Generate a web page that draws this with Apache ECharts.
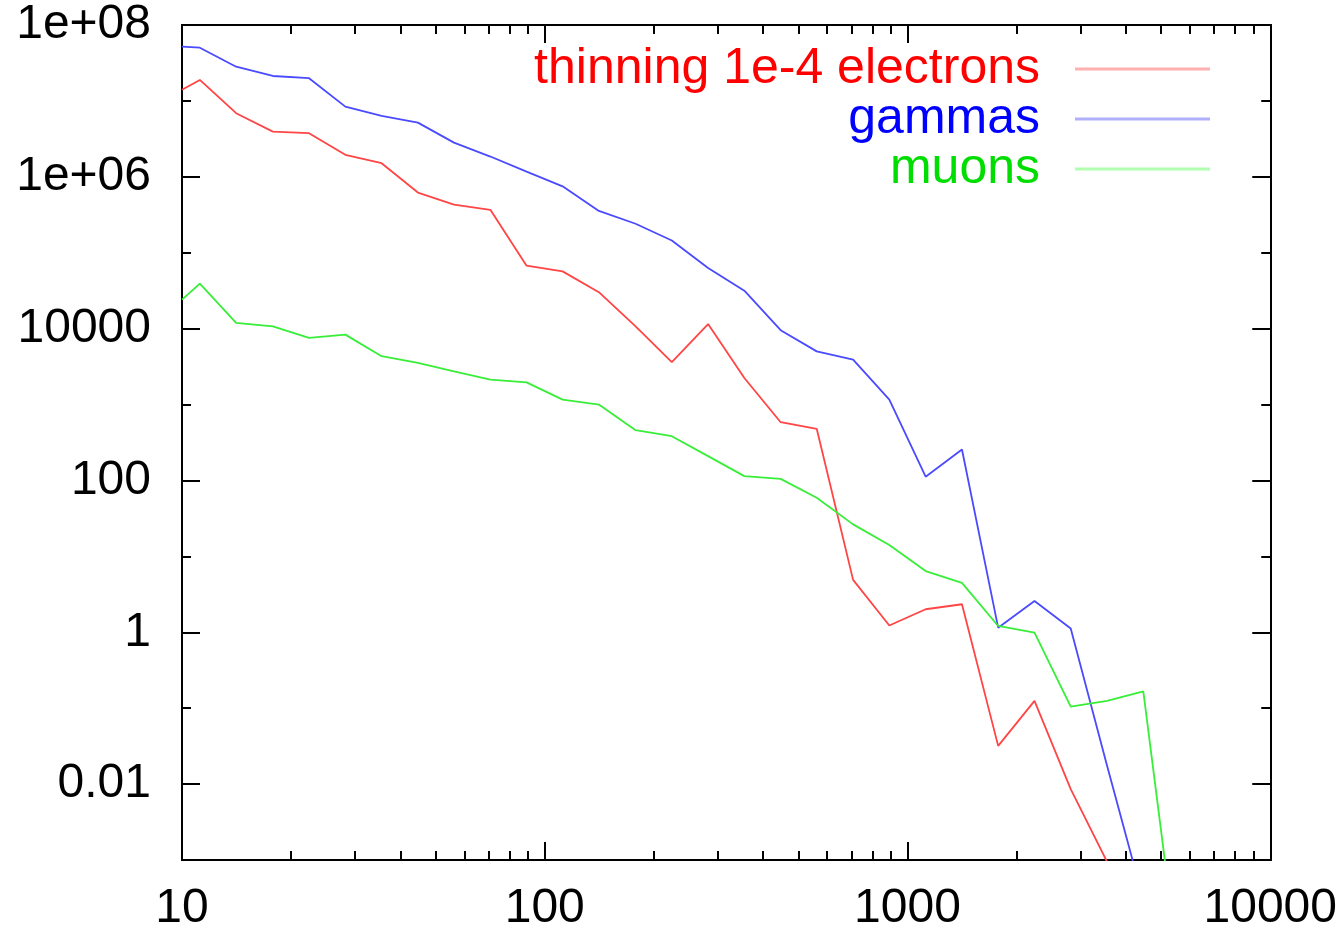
<!DOCTYPE html>
<html><head><meta charset="utf-8">
<script src="https://cdn.jsdelivr.net/npm/echarts@6/dist/echarts.min.js"></script>
<style>html,body{margin:0;padding:0;background:#fff}#c{width:1340px;height:933px}</style>
</head><body><div id="c"></div>
<script>
// x positions (energy bins)
const energies = [10, 11.2, 14.1, 17.8, 22.4, 28.2, 35.5, 44.7, 56.2, 70.8, 89.1, 112, 141, 178, 224, 282, 355, 447, 562, 708, 891, 1122, 1413, 1778, 2239, 2818, 3548, 4467, 5623];
const electrons = [1.40e7, 1.89e7, 6.89e6, 3.94e6, 3.76e6, 1.95e6, 1.51e6, 6.21e5, 4.29e5, 3.68e5, 6.75e4, 5.68e4, 3.02e4, 1.07e4, 3.61e3, 1.15e4, 2.24e3, 585, 479, 4.9, 1.23, 2.01, 2.34, 0.0319, 0.125, 0.0086, 0.00095];
const gammas = [5.18e7, 5.02e7, 2.82e7, 2.13e7, 1.99e7, 8.41e6, 6.35e6, 5.18e6, 2.82e6, 1.85e6, 1.17e6, 7.5e5, 3.55e5, 2.41e5, 1.45e5, 6.3e4, 3.16e4, 9.55e3, 5.02e3, 3.91e3, 1.16e3, 112, 256, 1.15, 2.58, 1.12, 0.0176, 0.0003];
const muons = [2.41e4, 3.91e4, 1.19e4, 1.07e4, 7.55e3, 8.34e3, 4.33e3, 3.54e3, 2.74e3, 2.13e3, 1.96e3, 1.16e3, 1.0e3, 459, 383, 209, 114, 105, 59.2, 26.4, 14.1, 6.41, 4.47, 1.21, 0.99, 0.105, 0.125, 0.166, 3.0e-5];

const seriesNames = ['thinning 1e-4 electrons', 'gammas', 'muons'];
const xMajorTicks = [10, 100, 1000, 10000];
const xTickLabels = ['10', '100', '1000', '10000'];
const xMinorTicks = [20, 30, 40, 50, 60, 70, 80, 90, 200, 300, 400, 500, 600, 700, 800, 900, 2000, 3000, 4000, 5000, 6000, 7000, 8000, 9000];
const yMajorTicks = [1e8, 1e6, 1e4, 100, 1, 0.01];
const yTickLabels = ['1e+08', '1e+06', '10000', '100', '1', '0.01'];
const yMinorTicks = [1e7, 1e5, 1000, 10, 0.1, 0.001];

const FONT = "'Liberation Sans', Arial, Helvetica, sans-serif";
const FS = 48;

function findLabel(ticks, labels, v) {
  for (let i = 0; i < ticks.length; i++) {
    if (Math.abs(Math.log10(ticks[i]) - Math.log10(v)) < 1e-6) return labels[i];
  }
  return '';
}

function xAx(position, ticks, len, showLabel) {
  return {
    type: 'log', logBase: 10, min: 10, max: 10000, position: position,
    axisLine: { show: true, onZero: false, lineStyle: { color: '#000', width: 2 } },
    axisTick: { show: true, inside: true, length: len, customValues: ticks, lineStyle: { color: '#000', width: 2 } },
    axisLabel: showLabel ? {
      show: true, customValues: xMajorTicks, margin: 25, color: '#000', fontSize: FS, fontFamily: FONT,
      formatter: v => findLabel(xMajorTicks, xTickLabels, v)
    } : { show: false },
    splitLine: { show: false }, minorTick: { show: false }, minorSplitLine: { show: false }
  };
}
function yAx(position, ticks, len, showLabel) {
  return {
    type: 'log', logBase: 10, min: 0.001, max: 1e8, position: position,
    axisLine: { show: true, onZero: false, lineStyle: { color: '#000', width: 2 } },
    axisTick: { show: true, inside: true, length: len, customValues: ticks, lineStyle: { color: '#000', width: 2 } },
    axisLabel: showLabel ? {
      show: true, customValues: yMajorTicks, margin: 31, color: '#000', fontSize: FS, fontFamily: FONT,
      padding: [6, 0, 0, 0],
      formatter: v => findLabel(yMajorTicks, yTickLabels, v)
    } : { show: false },
    splitLine: { show: false }, minorTick: { show: false }, minorSplitLine: { show: false }
  };
}

function pairs(arr) { return arr.map((v, i) => [energies[i], v]); }

const lineColors = ['#ff4545', '#4a4aff', '#38ee38'];
const textColors = ['#ff0000', '#0000ff', '#00dd00'];
const legendIconColors = ['#ffb0b0', '#b0b0ff', '#b0ffb0'];
const dataSets = [electrons, gammas, muons];

const chart = echarts.init(document.getElementById('c'), null, { renderer: 'canvas' });
chart.setOption({
  animation: false,
  backgroundColor: '#fff',
  grid: { left: 182, right: 68, top: 25, bottom: 73, containLabel: false },
  xAxis: [
    xAx('bottom', xMajorTicks, 18, true),
    xAx('bottom', xMinorTicks, 9, false),
    xAx('top', xMajorTicks, 18, false),
    xAx('top', xMinorTicks, 9, false)
  ],
  yAxis: [
    yAx('left', yMajorTicks, 18, true),
    yAx('left', yMinorTicks, 9, false),
    yAx('right', yMajorTicks, 18, false),
    yAx('right', yMinorTicks, 9, false)
  ],
  legend: {
    orient: 'vertical', align: 'right', right: 130, top: 44, padding: 0, itemGap: 0,
    itemWidth: 135, itemHeight: 3, icon: 'rect', selectedMode: false,
    textStyle: { fontSize: 50, fontFamily: FONT, padding: [0, 30, 0, 0] },
    data: seriesNames.map((n, i) => ({ name: n, textStyle: { color: textColors[i] }, itemStyle: { color: legendIconColors[i] } }))
  },
  series: dataSets.map((d, i) => ({
    name: seriesNames[i], type: 'line', xAxisIndex: 0, yAxisIndex: 0,
    data: pairs(d), showSymbol: false, symbol: 'none', clip: true, smooth: false,
    lineStyle: { color: lineColors[i], width: 1.8 }, itemStyle: { color: lineColors[i] }
  }))
});
</script></body></html>
